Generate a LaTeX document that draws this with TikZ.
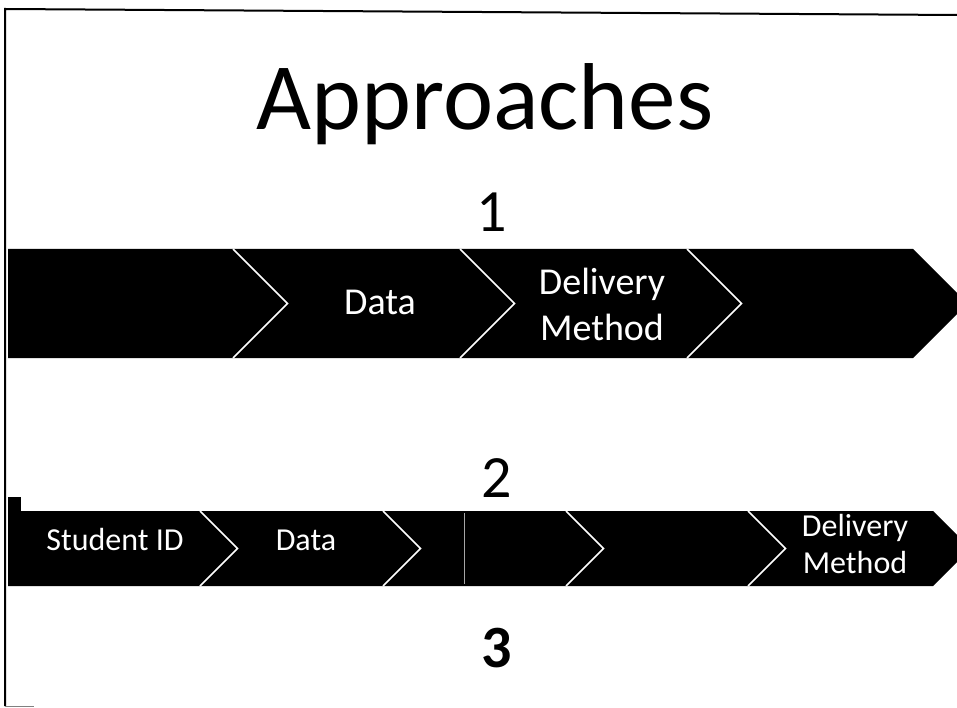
\documentclass[tikz,border=0pt]{standalone}
\usepackage{fontspec}
\setmainfont{Carlito}
\begin{document}
\begin{tikzpicture}[x=1pt,y=-1pt,
  chev/.style={fill=black},
  notch/.style={draw=white,line width=1.6pt,line join=miter},
  lblA/.style={text=white,align=center,inner sep=0pt,font=\fontsize{38}{46}\selectfont},
  lblB/.style={text=white,align=center,inner sep=0pt,font=\fontsize{32}{37}\selectfont},
  num/.style={anchor=base,inner sep=0pt,font=\fontsize{60}{70}\selectfont}]
\useasboundingbox (0,0) rectangle (957,708);
\clip (0,0) rectangle (957,708);
\fill[white] (0,0) rectangle (957,708);
% frame
\draw[line width=2pt] (5,706) -- (5,9) -- (957,15);
\draw[gray,line width=1pt] (5,706) -- (34,706);
% title
\node[anchor=base,inner sep=0pt,font=\fontsize{95}{100}\selectfont] (title) at (485,130) {Approaches};
% numbers
\node[num] (n1) at (492,232) {1};
\node[num] (n2) at (497,497) {2};
\node[num,font=\fontsize{60}{70}\selectfont\bfseries] (n3) at (497,667) {3};
% row 1 chevrons
\path[chev] (8,249) -- (233,249) -- (287.5,303.5) -- (233,358) -- (8,358) -- cycle;
\foreach \a/\b in {233/460,460/687,687/913}{
  \path[chev] (\a,249) -- (\b,249) -- ({\b+54.5},303.5) -- (\b,358) -- (\a,358) -- ({\a+54.5},303.5) -- cycle;
}
\foreach \a in {233,460,687}{
  \path[notch] (\a,249) -- ({\a+54.5},303.5) -- (\a,358);
}
\node[lblA,anchor=base] (d1) at (380,314) {Data};
\node[lblA] (m1) at (602,304) {Delivery\\Method};
% row 2 chevrons
\fill[black] (8,497) rectangle (21,512);
\path[chev] (8,511) -- (200,511) -- (237.5,548.5) -- (200,586) -- (8,586) -- cycle;
\foreach \a/\b in {200/383,383/566,566/748,748/933}{
  \path[chev] (\a,511) -- (\b,511) -- ({\b+37.5},548.5) -- (\b,586) -- (\a,586) -- ({\a+37.5},548.5) -- cycle;
}
\foreach \a in {200,383,566,748}{
  \path[notch] (\a,511) -- ({\a+37.5},548.5) -- (\a,586);
}
\draw[gray!70,line width=0.6pt] (464,513) -- (464,584);
\node[lblB,anchor=base] (s2) at (115,550) {Student ID};
\node[lblB,anchor=base] (d2) at (306,550) {Data};
\node[lblB] (m2) at (855,544) {Delivery\\Method};
\end{tikzpicture}
\end{document}
